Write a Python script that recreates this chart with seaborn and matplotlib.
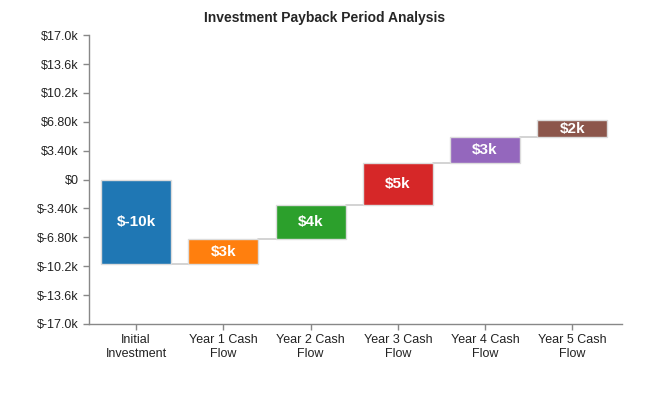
import numpy as np
import pandas as pd
import matplotlib
matplotlib.use("Agg")
import matplotlib.pyplot as plt
import seaborn as sns

# waterfall data
steps = ["Initial\nInvestment", "Year 1 Cash\nFlow", "Year 2 Cash\nFlow",
         "Year 3 Cash\nFlow", "Year 4 Cash\nFlow", "Year 5 Cash\nFlow"]
changes = [-10000, 3000, 4000, 5000, 3000, 2000]
bar_labels = ["$-10k", "$3k", "$4k", "$5k", "$3k", "$2k"]
colors = ["#1f77b4", "#ff7f0e", "#2ca02c", "#d62728", "#9467bd", "#8c564b"]
ytick_vals = [17000, 13600, 10200, 6800, 3400, 0, -3400, -6800, -10200, -13600, -17000]
ytick_labels = ["$17.0k", "$13.6k", "$10.2k", "$6.80k", "$3.40k", "$0",
                "$-3.40k", "$-6.80k", "$-10.2k", "$-13.6k", "$-17.0k"]

ends = np.cumsum(changes)
starts = ends - np.array(changes)
df = pd.DataFrame({"step": steps, "change": changes, "start": starts, "end": ends})

sns.set_style("white")
plt.rcParams["font.family"] = ["Liberation Sans", "DejaVu Sans"]

fig = plt.figure(figsize=(6.5, 3.95), dpi=100)
ax = fig.add_axes([0.137, 0.18, 0.82, 0.731])

# one call per bar so each can sit on its own base
for i, row in df.iterrows():
    sns.barplot(x=[row["step"]], y=[row["change"]], bottom=row["start"],
                order=steps, color=colors[i], saturation=1, width=0.8,
                edgecolor="#dcdcdc", linewidth=1, ax=ax)
    mid = row["start"] + row["change"] / 2
    ax.text(i, mid, bar_labels[i], ha="center", va="center", color="white",
            fontsize=11, fontweight="bold")

# connector lines
for i in range(len(steps) - 1):
    ax.plot([i + 0.4, i + 0.6], [ends[i], ends[i]], color="#cccccc", lw=1.2, zorder=0)

ax.set_ylim(-17000, 17000)
ax.set_xlim(-0.54, 5.57)
ax.set_yticks(ytick_vals)
ax.set_yticklabels(ytick_labels)
ax.set_xlabel("")
ax.set_ylabel("")
ax.tick_params(axis="both", labelsize=9, colors="#222222", length=4, width=1,
               direction="out", left=True, bottom=True)
ax.tick_params(axis="both", color="#888888")
for s in ["top", "right"]:
    ax.spines[s].set_visible(False)
for s in ["left", "bottom"]:
    ax.spines[s].set_color("#888888")
    ax.spines[s].set_linewidth(1)

fig.suptitle("Investment Payback Period Analysis", x=0.5, y=0.972,
             fontsize=10, fontweight="bold")

fig.savefig("out.png", dpi=100)
